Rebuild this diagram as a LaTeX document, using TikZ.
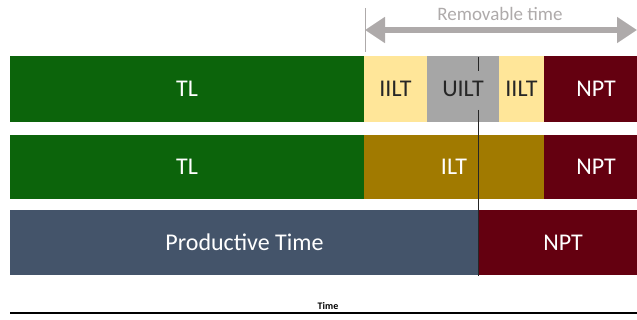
\documentclass[tikz,border=0pt]{standalone}
\usepackage{fontspec}
\setmainfont{Carlito}
\usetikzlibrary{arrows.meta}
\definecolor{tlgreen}{HTML}{0C640B}
\definecolor{iiltyel}{HTML}{FFE699}
\definecolor{uiltgray}{HTML}{A6A6A6}
\definecolor{nptred}{HTML}{640010}
\definecolor{iltolive}{HTML}{A17A00}
\definecolor{ptslate}{HTML}{44546A}
\definecolor{arrgray}{HTML}{AEAAAA}
\definecolor{darktext}{HTML}{262626}
\begin{document}
\begin{tikzpicture}[x=1pt,y=-1pt,
  seg/.style={draw=none,inner sep=0pt,outer sep=0pt,anchor=north west,
    font=\fontsize{24}{28}\selectfont,text=white},
  darkseg/.style={seg,text=darktext}]
\useasboundingbox (0,0) rectangle (637,320);
% row 1
\node[seg,fill=tlgreen,minimum width=354pt,minimum height=66pt] (tl1) at (10,56) {TL};
\node[darkseg,fill=iiltyel,minimum width=63pt,minimum height=66pt] (iilt1) at (364,56) {IILT};
\node[darkseg,fill=uiltgray,minimum width=72pt,minimum height=66pt] (uilt) at (427,56) {UILT};
\node[darkseg,fill=iiltyel,minimum width=45pt,minimum height=66pt] (iilt2) at (499,56) {IILT};
\node[seg,fill=nptred,minimum width=93pt,minimum height=66pt] (npt1) at (544,56) {\hspace*{11pt}NPT};
% row 2
\node[seg,fill=tlgreen,minimum width=354pt,minimum height=64pt] (tl2) at (10,135) {TL};
\node[seg,fill=iltolive,minimum width=180pt,minimum height=64pt] (ilt) at (364,135) {ILT};
\node[seg,fill=nptred,minimum width=93pt,minimum height=64pt] (npt2) at (544,135) {\hspace*{11pt}NPT};
% row 3
\node[seg,fill=ptslate,minimum width=469pt,minimum height=65pt] (pt) at (10,210) {Productive Time};
\node[seg,fill=nptred,minimum width=158pt,minimum height=65pt] (npt3) at (479,210) {\hspace*{10pt}NPT};
% vertical marker
\coordinate (vt1) at (478.5,57);
\coordinate (vt2) at (478.5,71);
\coordinate (vb1) at (478.5,110);
\coordinate (vb2) at (478.5,276);
\draw[line width=1pt,color=darktext] (vt1) -- (vt2);
\draw[line width=1pt,color=darktext] (vb1) -- (vb2);
% removable time arrow
\coordinate (rl) at (365,30);
\coordinate (rr) at (637,30);
\coordinate (rt) at (365,8);
\coordinate (rb) at (365,52);
\draw[line width=0.8pt,color=arrgray] (rt) -- (rb);
\draw[line width=6pt,color=arrgray,{Triangle[length=20pt,width=25pt]}-{Triangle[length=20pt,width=25pt]}] (rl) -- (rr);
\node[inner sep=0pt,text=arrgray,font=\fontsize{19}{22}\selectfont] (rtxt) at (500,14) {Removable time};
% time axis
\coordinate (ax1) at (10,313);
\coordinate (ax2) at (637,313);
\draw[line width=1.5pt,black] (ax1) -- (ax2);
\node[inner sep=0pt,font=\fontsize{10}{11}\selectfont\bfseries] (time) at (328,306) {Time};
\end{tikzpicture}
\end{document}
